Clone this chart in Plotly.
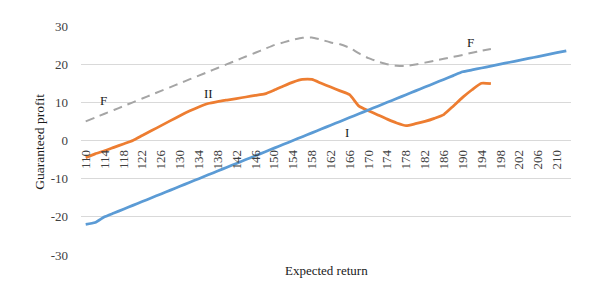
import plotly.graph_objects as go

x_cats = list(range(110, 214, 2))  # 110..212
tick_labels = list(range(110, 211, 4))
y_ticks = [-30, -20, -10, 0, 10, 20, 30]

series_I = [-22, -21.5, -20, -19, -18, -17, -16, -15, -14, -13,
            -12, -11, -10, -9, -8, -7, -6, -5, -4, -3,
            -2, -1, 0, 1, 2, 3, 4, 5, 6, 7,
            8, 9, 10, 11, 12, 13, 14, 15, 16, 17,
            18, 18.5, 19, 19.5, 20, 20.5, 21, 21.5, 22, 22.5,
            23, 23.5]
series_II = [-4.5, -3.5, -2.7, -1.8, -0.9, 0, 1.3, 2.6, 3.9, 5.2,
             6.5, 7.7, 8.8, 9.7, 10.2, 10.6, 11, 11.4, 11.8, 12.2,
             13.2, 14.3, 15.3, 16, 16, 15, 14, 13, 12, 9,
             7.8, 6.7, 5.6, 4.6, 3.9, 4.4, 5, 5.8, 6.8, 9,
             11.3, 13.3, 15, 14.9]
series_F = [5, 6, 7, 8, 9, 10, 11, 12, 13, 14,
            15, 16, 17, 18, 19, 20, 21, 22, 23, 24,
            25, 25.7, 26.4, 26.9, 27, 26.4, 25.7, 25.2, 24.3, 22.8,
            21.6, 20.7, 20, 19.6, 19.5, 19.9, 20.4, 20.9, 21.4, 21.9,
            22.4, 23, 23.5, 24]

labels = [("F", 113.7, 10.4), ("II", 136, 12.2), ("I", 165.4, 2.2), ("F", 191.7, 25.7)]

serif = "Liberation Serif"
fig = go.Figure()
fig.add_trace(go.Scatter(x=x_cats[:len(series_F)], y=series_F, mode="lines",
                         line=dict(color="#A5A5A5", width=2, dash="9px,6px", shape="spline", smoothing=0.5),
                         showlegend=False, hoverinfo="skip"))
fig.add_trace(go.Scatter(x=x_cats[:len(series_II)], y=series_II, mode="lines",
                         line=dict(color="#ED7D31", width=2.75, shape="spline", smoothing=0.5),
                         showlegend=False, hoverinfo="skip"))
fig.add_trace(go.Scatter(x=x_cats[:len(series_I)], y=series_I, mode="lines",
                         line=dict(color="#5B9BD5", width=2.75, shape="spline", smoothing=0.5),
                         showlegend=False, hoverinfo="skip"))

for txt, lx, ly in labels:
    fig.add_annotation(x=lx, y=ly, text=txt, showarrow=False,
                       font=dict(family=serif, size=13, color="#1a1a1a"))

fig.add_annotation(xref="paper", yref="paper", x=0.5, y=-0.025, yanchor="top",
                   text="Expected return", showarrow=False,
                   font=dict(family=serif, size=13, color="#1a1a1a"))
fig.add_annotation(xref="paper", yref="paper", x=-0.0837, y=0.495, xanchor="center",
                   yanchor="middle", textangle=-90,
                   text="Guaranteed profit", showarrow=False,
                   font=dict(family=serif, size=13.5, color="#1a1a1a"))

fig.update_layout(
    width=588, height=292,
    margin=dict(l=73, r=25, t=18, b=45, autoexpand=False),
    plot_bgcolor="white", paper_bgcolor="white",
    xaxis=dict(range=[109, 213], tickvals=tick_labels, ticktext=[str(t) for t in tick_labels],
               tickangle=-90, showgrid=False, zeroline=False, showline=False,
               anchor="free", position=0.5, ticks="", ticklabelstandoff=6, automargin=False,
               tickfont=dict(family=serif, size=13, color="#404040")),
    yaxis=dict(range=[-30, 30], tickvals=y_ticks, ticktext=[str(t) for t in y_ticks],
               showgrid=True, gridcolor="#D9D9D9", gridwidth=1, zeroline=False,
               showline=False, ticks="", ticklabelstandoff=12, automargin=False,
               tickfont=dict(family=serif, size=13, color="#404040")),
)

fig.write_html("out.html")
